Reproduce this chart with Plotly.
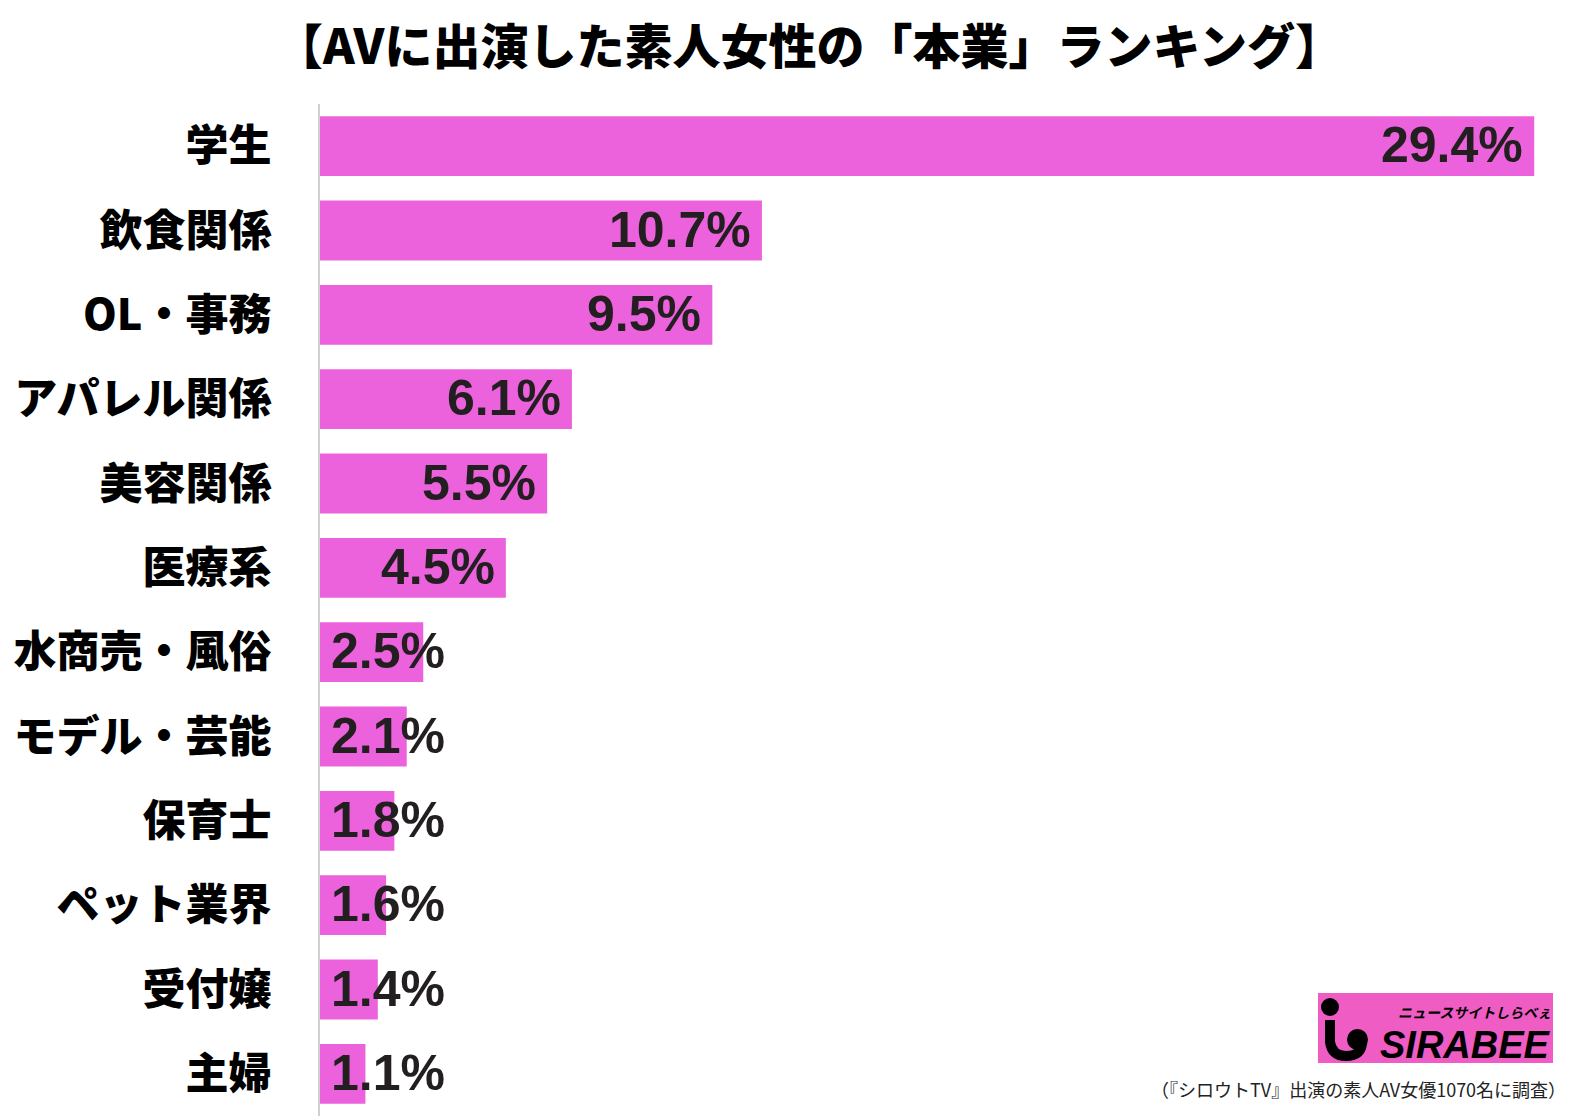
import plotly.graph_objects as go

categories = ["学生", "飲食関係", "OL・事務", "アパレル関係", "美容関係", "医療系",
              "水商売・風俗", "モデル・芸能", "保育士", "ペット業界", "受付嬢", "主婦"]
values = [29.4, 10.7, 9.5, 6.1, 5.5, 4.5, 2.5, 2.1, 1.8, 1.6, 1.4, 1.1]
value_labels = [f"{v}%" for v in values]

title_text = "【AVに出演した素人女性の「本業」ランキング】"
source_text = "（『シロウトTV』出演の素人AV女優1070名に調査）"

BAR = "#EC62DD"
INK = "#231F20"
CJK = "Noto Sans CJK JP"
NUM = "Liberation Sans"

W, H = 1580, 1118
ML, MR, MT, MB = 320, 21, 104, 2
plot_w = W - ML - MR
plot_h = H - MT - MB


def px(pix):
    return (pix - ML) / plot_w


def py(pix):
    return 1 - (pix - MT) / plot_h


fig = go.Figure()
fig.add_trace(go.Bar(
    y=categories, x=values, orientation="h",
    marker=dict(color=BAR, line=dict(width=0)),
    width=0.71, hoverinfo="skip",
))

label_min = 3.3
for c, v, t in zip(categories, values, value_labels):
    fig.add_annotation(
        x=max(v, label_min), y=c, xref="x", yref="y",
        text=t, showarrow=False, xanchor="right", yanchor="middle",
        xshift=-9, yshift=1,
        font=dict(family=NUM, size=50, color=INK, weight="bold"),
    )

fig.add_annotation(
    x=px(809), y=py(43), xref="paper", yref="paper", text=title_text,
    showarrow=False, xanchor="center", yanchor="middle",
    font=dict(family=CJK, size=48, color="#000000", weight=900),
)

fig.update_layout(
    width=W, height=H,
    margin=dict(l=ML, r=MR, t=MT, b=MB),
    plot_bgcolor="white", paper_bgcolor="white",
    showlegend=False,
    xaxis=dict(range=[0, 30], visible=False, fixedrange=True),
    yaxis=dict(
        autorange="reversed", showgrid=False, zeroline=False,
        showline=True, linecolor="#D0D0D0", linewidth=2,
        ticks="", ticklabelstandoff=38,
        tickfont=dict(family=CJK, size=43, color="#000000", weight=900),
    ),
)

# logo box (decorative)
fig.add_shape(type="rect", xref="paper", yref="paper",
              x0=px(1318), x1=px(1553), y0=py(1063), y1=py(993),
              fillcolor="#EE5CC4", line=dict(width=0), layer="above")
fig.add_shape(type="circle", xref="paper", yref="paper",
              x0=px(1321), x1=px(1339), y0=py(1016), y1=py(998),
              fillcolor="black", line=dict(width=0), layer="above")
fig.add_shape(type="path", xref="paper", yref="paper",
              path=(f"M {px(1330)} {py(1020)} L {px(1330)} {py(1042)} "
                    f"Q {px(1332)} {py(1056)} {px(1346)} {py(1056)} "
                    f"Q {px(1362)} {py(1056)} {px(1362)} {py(1042)}"),
              line=dict(color="black", width=10), layer="above")
fig.add_shape(type="circle", xref="paper", yref="paper",
              x0=px(1347), x1=px(1368), y0=py(1050), y1=py(1029),
              fillcolor="black", line=dict(width=0), layer="above")
fig.add_annotation(x=px(1553), y=py(1045), xref="paper", yref="paper",
                   text="<i>SIRABEE</i>", showarrow=False,
                   xanchor="right", yanchor="middle",
                   font=dict(family="Liberation Sans", size=38, color="black", weight="bold"))
fig.add_annotation(x=px(1553), y=py(1012), xref="paper", yref="paper",
                   text="<i>ニュースサイトしらべぇ</i>", showarrow=False,
                   xanchor="right", yanchor="middle",
                   font=dict(family=CJK, size=14, color="black", weight=700))
fig.add_annotation(x=px(1568), y=py(1089), xref="paper", yref="paper",
                   text=source_text, showarrow=False,
                   xanchor="right", yanchor="middle",
                   font=dict(family=CJK, size=18, color="#222222"))

fig.write_html("out.html")
